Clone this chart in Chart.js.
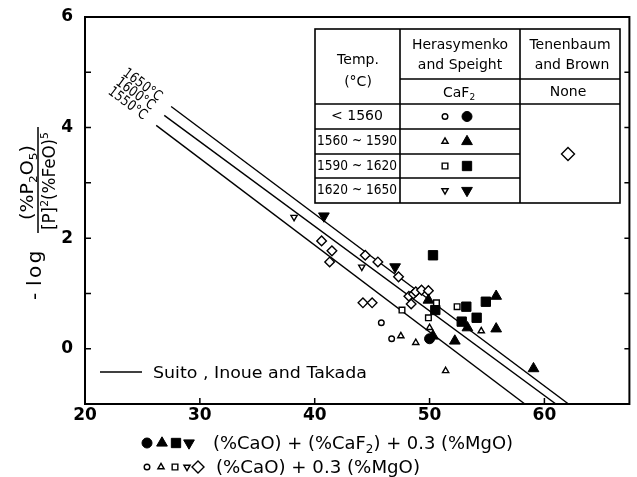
<!DOCTYPE html>
<html>
<head>
<meta charset="utf-8">
<script src="https://cdn.jsdelivr.net/npm/chart.js@4.4.0/dist/chart.umd.min.js"></script>
<style>
  html, body { margin: 0; padding: 0; background: #fff; }
  canvas { display: block; }
</style>
</head>
<body>
<canvas id="chart" width="637" height="477"></canvas>
<script>
// Suito, Inoue and Takada lines, one per temperature
const lineLabels = ['1550°C', '1600°C', '1650°C'];
const lineStartX = [26.2, 26.9, 27.5];
const lineStartY = [4.04, 4.22, 4.38];
const lineEndX = [58.3, 61.0, 62.1];
const lineEndY = [-1, -1, -1];

// Herasymenko and Speight, plotted against (%CaO)+0.3(%MgO)
const openCircleX = [45.8, 46.7];
const openCircleY = [0.47, 0.18];
const openTriUpX = [47.5, 48.8, 50.0, 54.5, 51.4];
const openTriUpY = [0.23, 0.11, 0.38, 0.32, -0.40];
const openSquareX = [47.6, 49.9, 50.6, 52.4];
const openSquareY = [0.70, 0.56, 0.83, 0.76];
const openTriDownX = [38.2, 44.1];
const openTriDownY = [2.38, 1.48];

// Herasymenko and Speight, CaF2 included in the basicity
const fillCircleX = [50.0];
const fillCircleY = [0.18];
const fillTriUpX = [49.9, 50.3, 52.2, 53.3, 55.8, 55.8, 59.05];
const fillTriUpY = [0.88, 0.23, 0.14, 0.38, 0.36, 0.95, -0.36];
const fillSquareX = [50.3, 50.5, 52.8, 53.2, 54.1, 54.9];
const fillSquareY = [1.69, 0.70, 0.49, 0.76, 0.56, 0.85];
const fillTriDownX = [40.8, 47.0];
const fillTriDownY = [2.40, 1.48];

// Tenenbaum and Brown
const diamondX = [40.6, 41.5, 41.3, 44.4, 45.5, 47.3, 44.2, 45.0, 48.2, 48.6, 48.8, 49.3, 49.9, 48.4];
const diamondY = [1.95, 1.77, 1.57, 1.69, 1.57, 1.30, 0.83, 0.83, 0.95, 0.99, 1.03, 1.06, 1.05, 0.81];

const xTicks = [20, 30, 40, 50, 60];
const yTicks = [0, 2, 4, 6];
const tempRanges = ['< 1560', '1560 ~ 1590', '1590 ~ 1620', '1620 ~ 1650'];

const FONT = '"DejaVu Sans", sans-serif';

const marker = {
  openCircle:   { style: 'circle',   r: 2.8, fill: false },
  openTriUp:    { style: 'triangle', r: 3.6, fill: false },
  openSquare:   { style: 'rect',     r: 4.0, fill: false },
  openTriDown:  { style: 'triangle', r: 3.6, fill: false, rot: 180 },
  fillCircle:   { style: 'circle',   r: 5.0, fill: true },
  fillTriUp:    { style: 'triangle', r: 6.2, fill: true },
  fillSquare:   { style: 'rect',     r: 6.6, fill: true },
  fillTriDown:  { style: 'triangle', r: 6.2, fill: true, rot: 180 },
  diamond:      { style: 'rectRot',  r: 4.8, fill: false }
};

const pts = (xs, ys) => xs.map((x, i) => ({ x: x, y: ys[i] }));

function pointSet(label, xs, ys, m) {
  return {
    label: label,
    data: pts(xs, ys),
    pointStyle: m.style,
    pointRadius: m.r,
    pointRotation: m.rot || 0,
    pointBorderWidth: m.fill ? 1 : 1.4,
    backgroundColor: m.fill ? '#000' : '#fff',
    borderColor: '#000',
    showLine: false
  };
}

const lineSets = lineLabels.map((lab, i) => ({
  label: lab,
  data: [{ x: lineStartX[i], y: lineStartY[i] }, { x: lineEndX[i], y: lineEndY[i] }],
  showLine: true,
  pointRadius: 0,
  borderColor: '#000',
  borderWidth: 1.4,
  fill: false
}));

// same shapes as chart points, for the key table and the axis notes
function drawMarker(ctx, m, x, y, r) {
  r = r || m.r;
  ctx.save();
  ctx.beginPath();
  if (m.style === 'circle') {
    ctx.arc(x, y, r, 0, Math.PI * 2);
  } else if (m.style === 'triangle') {
    const s = m.rot ? -1 : 1;
    ctx.moveTo(x, y - s * r);
    ctx.lineTo(x + r * 0.866, y + s * r * 0.5);
    ctx.lineTo(x - r * 0.866, y + s * r * 0.5);
    ctx.closePath();
  } else if (m.style === 'rect') {
    const h = r * Math.SQRT1_2;
    ctx.rect(x - h, y - h, 2 * h, 2 * h);
  } else {
    ctx.moveTo(x, y - r); ctx.lineTo(x + r, y); ctx.lineTo(x, y + r); ctx.lineTo(x - r, y);
    ctx.closePath();
  }
  ctx.fillStyle = m.fill ? '#000' : '#fff';
  ctx.fill();
  ctx.lineWidth = m.fill ? 1 : 1.4;
  ctx.strokeStyle = '#000';
  ctx.stroke();
  ctx.restore();
}

function richWidth(ctx, parts, size) {
  let w = 0;
  parts.forEach(p => {
    ctx.font = (p.s ? Math.round(size * 0.65) : size) + 'px ' + FONT;
    w += ctx.measureText(p.t).width;
  });
  return w;
}

// text runs with sub/superscripts, stretched to a given width
function drawRich(ctx, parts, x, y, size, width) {
  const natural = richWidth(ctx, parts, size);
  const k = width ? width / natural : 1;
  ctx.save();
  ctx.translate(x, y);
  ctx.scale(k, 1);
  ctx.textAlign = 'left';
  ctx.textBaseline = 'alphabetic';
  ctx.fillStyle = '#000';
  let cx = 0;
  parts.forEach(p => {
    const fs = p.s ? Math.round(size * 0.65) : size;
    ctx.font = fs + 'px ' + FONT;
    const dy = p.s === 'sub' ? size * 0.22 : p.s === 'sup' ? -size * 0.42 : 0;
    ctx.fillText(p.t, cx, dy);
    cx += ctx.measureText(p.t).width;
  });
  ctx.restore();
}

function text(ctx, str, x, y, size, maxW) {
  ctx.font = size + 'px ' + FONT;
  ctx.textAlign = 'center';
  ctx.textBaseline = 'middle';
  ctx.fillStyle = '#000';
  if (maxW) ctx.fillText(str, x, y, maxW); else ctx.fillText(str, x, y);
}

// keep the plot box where the layout padding puts it
function fixBox(size) {
  return s => {
    if (s.axis === 'x') s.height = size; else s.width = size;
    s.paddingTop = 0; s.paddingBottom = 0; s.paddingLeft = 0; s.paddingRight = 0;
  };
}

const decorations = {
  id: 'decorations',
  afterDraw(chart) {
    const ctx = chart.ctx;
    const a = chart.chartArea;
    const xs = chart.scales.x, ys = chart.scales.y;

    // frame and inward ticks
    ctx.save();
    ctx.strokeStyle = '#000';
    ctx.lineWidth = 2;
    ctx.strokeRect(a.left, a.top, a.right - a.left, a.bottom - a.top);
    ctx.lineWidth = 1.5;
    ctx.beginPath();
    xTicks.forEach(v => {
      const px = xs.getPixelForValue(v);
      ctx.moveTo(px, a.bottom); ctx.lineTo(px, a.bottom - 6);
    });
    for (let v = Math.ceil(ys.min); v <= ys.max; v++) {
      const py = ys.getPixelForValue(v);
      ctx.moveTo(a.left, py); ctx.lineTo(a.left + 6, py);
      ctx.moveTo(a.right, py); ctx.lineTo(a.right - 5, py);
    }
    ctx.stroke();
    ctx.restore();

    // temperature labels at the upper end of each line
    lineLabels.forEach((lab, i) => {
      const x0 = xs.getPixelForValue(lineStartX[i]), y0 = ys.getPixelForValue(lineStartY[i]);
      const x1 = xs.getPixelForValue(lineEndX[i]), y1 = ys.getPixelForValue(lineEndY[i]);
      const ang = Math.atan2(y1 - y0, x1 - x0);
      ctx.save();
      ctx.translate(x0 - 36 * Math.cos(ang), y0 - 36 * Math.sin(ang));
      ctx.rotate(ang);
      text(ctx, lab, 0, 0, 14, 45);
      ctx.restore();
    });

    // y axis title, written bottom to top
    ctx.save();
    ctx.translate(38, 300);
    ctx.rotate(-Math.PI / 2);
    ctx.fillStyle = '#000';
    ctx.textAlign = 'left';
    ctx.textBaseline = 'alphabetic';
    ctx.font = '20px ' + FONT;
    ctx.fillText('-', 0, 3);
    let u = 14;
    for (const ch of 'log') {
      ctx.fillText(ch, u, 3);
      u += ctx.measureText(ch).width + 2.5;
    }
    drawRich(ctx, [{ t: '(%P' }, { t: '2', s: 'sub' }, { t: 'O' }, { t: '5', s: 'sub' }, { t: ')' }], 80, -5, 17, 75);
    drawRich(ctx, [{ t: '[P]' }, { t: '2', s: 'sup' }, { t: '(%FeO)' }, { t: '5', s: 'sup' }], 70, 17, 17, 98);
    ctx.lineWidth = 1.5;
    ctx.beginPath();
    ctx.moveTo(67, 0); ctx.lineTo(173, 0);
    ctx.stroke();
    ctx.restore();

    // line key inside the plot
    ctx.save();
    ctx.lineWidth = 1.4;
    ctx.beginPath();
    ctx.moveTo(100, 372); ctx.lineTo(142, 372);
    ctx.stroke();
    ctx.restore();
    drawRich(ctx, [{ t: 'Suito , Inoue and Takada' }], 153, 377.5, 15, 214);

    // symbol table
    const T = { l: 315, r: 620, t: 29, b: 203, c1: 400, c2: 520, head: 79, rows: [104, 129, 154, 178] };
    ctx.save();
    ctx.fillStyle = '#fff';
    ctx.fillRect(T.l, T.t, T.r - T.l, T.b - T.t);
    ctx.strokeStyle = '#000';
    ctx.lineWidth = 1.6;
    ctx.strokeRect(T.l, T.t, T.r - T.l, T.b - T.t);
    ctx.beginPath();
    ctx.moveTo(T.c1, T.t); ctx.lineTo(T.c1, T.b);
    ctx.moveTo(T.c2, T.t); ctx.lineTo(T.c2, T.b);
    ctx.moveTo(T.c1, T.head); ctx.lineTo(T.r, T.head);
    ctx.moveTo(T.l, T.rows[0]); ctx.lineTo(T.r, T.rows[0]);
    T.rows.slice(1).forEach(ry => { ctx.moveTo(T.l, ry); ctx.lineTo(T.c2, ry); });
    ctx.stroke();
    ctx.restore();

    text(ctx, 'Temp.', 358, 60, 14);
    text(ctx, '(°C)', 358, 82, 14);
    text(ctx, 'Herasymenko', 460, 45, 14, 96);
    text(ctx, 'and Speight', 460, 65, 14, 94);
    text(ctx, 'Tenenbaum', 570, 45, 14, 86);
    text(ctx, 'and Brown', 572, 65, 14, 85);
    drawRich(ctx, [{ t: 'CaF' }, { t: '2', s: 'sub' }], 443, 97, 14);
    text(ctx, 'None', 568, 92, 14);

    const openKeys = [marker.openCircle, marker.openTriUp, marker.openSquare, marker.openTriDown];
    const fillKeys = [marker.fillCircle, marker.fillTriUp, marker.fillSquare, marker.fillTriDown];
    const rowEdges = T.rows.concat([T.b]);
    tempRanges.forEach((lab, i) => {
      const cy = (rowEdges[i] + rowEdges[i + 1]) / 2;
      text(ctx, lab, 357, cy, 14, 80);
      drawMarker(ctx, openKeys[i], 445, cy);
      drawMarker(ctx, fillKeys[i], 467, cy);
    });
    drawMarker(ctx, marker.diamond, 568, 154, 6.5);

    // basicity notes under the x axis
    [147, 162, 176, 189].forEach((mx, i) => drawMarker(ctx, fillKeys[i], mx, 443));
    drawRich(ctx, [{ t: '(%CaO) + (%CaF' }, { t: '2', s: 'sub' }, { t: ') + 0.3 (%MgO)' }], 213, 449, 18, 300);
    [147, 161, 175, 187].forEach((mx, i) => drawMarker(ctx, openKeys[i], mx, 467));
    drawMarker(ctx, marker.diamond, 198, 467, 6);
    drawRich(ctx, [{ t: '(%CaO) + 0.3 (%MgO)' }], 216, 473, 18, 204);
  }
};

new Chart(document.getElementById('chart'), {
  type: 'scatter',
  data: {
    datasets: [
      pointSet('open circle', openCircleX, openCircleY, marker.openCircle),
      pointSet('open triangle', openTriUpX, openTriUpY, marker.openTriUp),
      pointSet('open square', openSquareX, openSquareY, marker.openSquare),
      pointSet('open inverted triangle', openTriDownX, openTriDownY, marker.openTriDown),
      pointSet('circle', fillCircleX, fillCircleY, marker.fillCircle),
      pointSet('triangle', fillTriUpX, fillTriUpY, marker.fillTriUp),
      pointSet('square', fillSquareX, fillSquareY, marker.fillSquare),
      pointSet('inverted triangle', fillTriDownX, fillTriDownY, marker.fillTriDown),
      pointSet('Tenenbaum and Brown', diamondX, diamondY, marker.diamond)
    ].concat(lineSets)
  },
  options: {
    responsive: false,
    animation: false,
    events: [],
    layout: { padding: { top: 17, right: 4, left: 0, bottom: 0 } },
    plugins: { legend: { display: false }, tooltip: { enabled: false } },
    scales: {
      x: {
        type: 'linear',
        min: 20,
        max: 67.4,
        grid: { display: false, drawTicks: false },
        border: { display: false },
        ticks: { color: '#000', font: { family: FONT, size: 17, weight: 'bold' }, padding: 1, maxRotation: 0 },
        afterBuildTicks: s => { s.ticks = xTicks.map(v => ({ value: v })); },
        afterFit: fixBox(73)
      },
      y: {
        type: 'linear',
        min: -1,
        max: 6,
        grid: { display: false, drawTicks: false },
        border: { display: false },
        ticks: { color: '#000', font: { family: FONT, size: 17, weight: 'bold' }, padding: 12 },
        afterBuildTicks: s => { s.ticks = yTicks.map(v => ({ value: v })); },
        afterFit: fixBox(85)
      }
    }
  },
  plugins: [decorations]
});
</script>
</body>
</html>
